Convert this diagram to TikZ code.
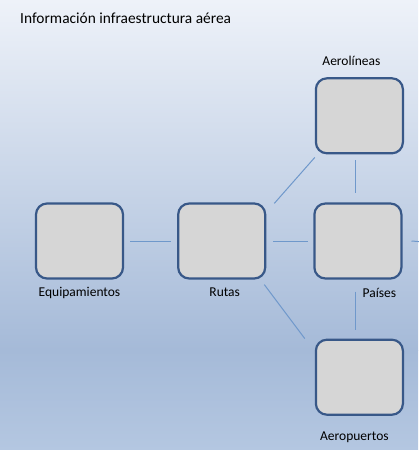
\documentclass[tikz,border=0pt]{standalone}
\usepackage{fontspec}
\setmainfont{Carlito}
\usetikzlibrary{positioning}
\usetikzlibrary{calc}

\definecolor{boxgray}{HTML}{D6D6D6}
\definecolor{boxedge}{HTML}{385888}
\definecolor{linkblue}{HTML}{6F98CB}
\definecolor{bgtop}{HTML}{EEF2F9}
\definecolor{bgmid}{HTML}{A5BAD8}
\definecolor{bgbot}{HTML}{B4C7E1}

\begin{document}
\begin{tikzpicture}[x=1pt, y=-1pt,
    box/.style={rectangle, rounded corners=11pt, minimum width=87pt, minimum height=75pt, draw=boxedge, line width=2.2pt, fill=boxgray},
    caption/.style={inner sep=0pt, font=\fontsize{13.5}{16}\selectfont, text=black},
    link/.style={draw=linkblue, line width=1pt}]
    \shade [top color=bgtop, bottom color=bgmid] (0,0) rectangle (418,350);
    \shade [top color=bgmid, bottom color=bgbot] (0,350) rectangle (418,450);
    \useasboundingbox (0,0) rectangle (418,450);

    \node (title) [anchor=base west, inner sep=0pt, font=\fontsize{15.4}{18}\selectfont, text=black] at (20,23) {Información infraestructura aérea};

    \node (equip) [box] at (79.5,241) {};
    \node (rutas) [box, right =53pt of equip] {};
    \node (paises) [box, right =47pt of rutas] {};
    \node (aerol) [box, above =48pt of paises, xshift=1.5pt] {};
    \node (aerop) [box, below =59pt of paises, xshift=1.5pt] {};

    \node (aerollabel) [caption, above =11pt of aerol, xshift=-8pt] {Aerolíneas};
    \node (equiplabel) [caption, below =7pt of equip] {Equipamientos};
    \node (rutaslabel) [caption, below =8pt of rutas, xshift=3pt] {Rutas};
    \node (paiseslabel) [caption, below =8pt of paises, xshift=21.5pt] {Países};
    \node (aeroplabel) [caption, below =16pt of aerop, xshift=-5pt] {Aeropuertos};

    \coordinate (edgeout) at (430,242.5);

    \draw [link, shorten <=6pt, shorten >=6pt] (equip) -- (rutas);
    \draw [link, shorten <=7pt, shorten >=5pt] (rutas) -- (paises);
    \draw [link] ($(rutas.north east)+(8,1)$) -- ($(aerol.south west)+(0,3)$);
    \draw [link] ($(rutas.south east)+(-2,5)$) -- ($(aerop.north west)+(-10,0)$);
    \draw [link] ($(aerol.south)+(-4,6)$) -- ($(paises.north)+(-2.5,-9)$);
    \draw [link] ($(paises.south)+(-2.5,12)$) -- ($(aerop.north)+(-4,-9)$);
    \draw [link] ($(paises.east)+(9,0)$) -- (edgeout);
\end{tikzpicture}
\end{document}
